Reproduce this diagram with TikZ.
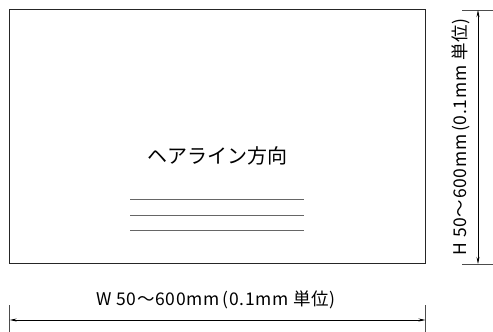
\documentclass[tikz,border=0pt]{standalone}
\usepackage{fontspec}
\setmainfont{Noto Sans CJK JP}
\usetikzlibrary{arrows.meta}
\usetikzlibrary{positioning}

\begin{document}
\begin{tikzpicture}[x=1pt, y=-1pt,
  panel/.style={draw=black!85, line width=1pt},
  hairline/.style={draw=black!60, line width=0.9pt},
  tick/.style={draw=black!70, line width=0.8pt},
  dimarrow/.style={{Stealth[length=7pt,width=3pt]}-{Stealth[length=7pt,width=3pt]}, line width=0.6pt},
  label/.style={font=\fontsize{17.5}{19}\selectfont\addfontfeature{LetterSpace=4}, inner sep=0pt}
]
\useasboundingbox (0,0) rectangle (493,332);

% panel
\draw[panel] (9.5,9.5) rectangle (425,263);
\node[font=\fontsize{20}{22}\selectfont, inner sep=0pt] (dir) at (217,156) {ヘアライン方向};
\foreach \y in {199,215,230}
  \draw[hairline] (130,\y) -- (304,\y);

% width
\coordinate (wl) at (9.7,320);
\coordinate (wr) at (425.5,320);
\draw[tick] (9.7,305) -- (9.7,332);
\draw[tick] (425.5,305) -- (425.5,332);
\draw[dimarrow] (wl) -- (wr);
\node[label] (wlab) at (216,300) {W 50～600mm\,(0.1mm 単位)};

% height
\coordinate (ht) at (478,10);
\coordinate (hb) at (478,264);
\draw[tick] (462,10) -- (493,10);
\draw[tick] (462,264) -- (493,264);
\draw[dimarrow] (ht) -- (hb);
\node[label, rotate=90] (hlab) at (461,137) {H 50～600mm\,(0.1mm 単位)};

\end{tikzpicture}
\end{document}
